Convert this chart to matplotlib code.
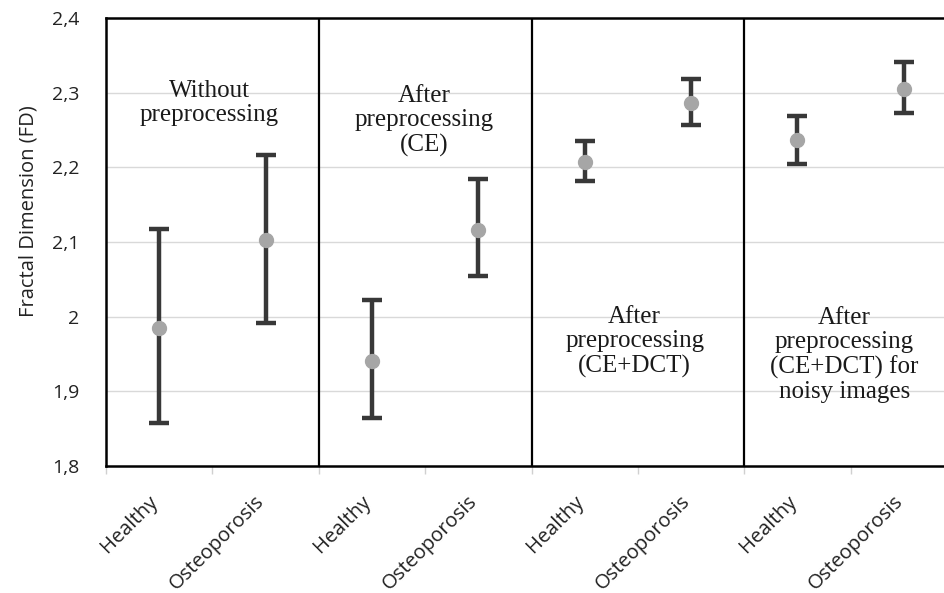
import numpy as np
import matplotlib
matplotlib.use("Agg")
import matplotlib.pyplot as plt
import matplotlib.transforms as mtransforms
from matplotlib.ticker import FixedLocator

# 数据
categories = ["Healthy", "Osteoporosis"] * 4
fd_mean = [1.985, 2.103, 1.940, 2.116, 2.207, 2.286, 2.236, 2.305]
fd_low = [1.857, 1.992, 1.864, 2.055, 2.182, 2.257, 2.204, 2.273]
fd_high = [2.118, 2.216, 2.022, 2.184, 2.235, 2.318, 2.269, 2.341]
y_ticks = [1.8, 1.9, 2.0, 2.1, 2.2, 2.3, 2.4]
y_tick_labels = ["1,8", "1,9", "2", "2,1", "2,2", "2,3", "2,4"]
group_texts = [
    "Without\npreprocessing",
    "After\npreprocessing\n(CE)",
    "After\npreprocessing\n(CE+DCT)",
    "After\npreprocessing\n(CE+DCT) for\nnoisy images",
]
group_text_x = [0.47, 2.49, 4.47, 6.44]
group_text_y = [2.286, 2.262, 1.966, 1.949]

x = np.arange(len(categories))
mean = np.array(fd_mean)
err = [mean - np.array(fd_low), np.array(fd_high) - mean]

fig = plt.figure(figsize=(9.44, 5.93), dpi=100)
ax = fig.add_axes([106 / 944, 1 - 466 / 593, 851 / 944, 448 / 593])

# 网格
for yt in y_ticks[1:-1]:
    ax.axhline(yt, color="#d9d9d9", lw=1, zorder=0)

line, caps, bars = ax.errorbar(x, mean, yerr=err, fmt="o", color="#a6a6a6",
                               markersize=10, ecolor="#383838", elinewidth=3.2,
                               capsize=7.5, capthick=3.2, zorder=3)
for c in caps:
    c.set_color("black")

# 分隔线
for xs in [1.5, 3.5, 5.5]:
    ax.axvline(xs, color="black", lw=1.6, zorder=2)

for t, tx, ty in zip(group_texts, group_text_x, group_text_y):
    ax.text(tx, ty, t, ha="center", va="center", fontsize=18,
            family="Liberation Serif", color="#1a1a1a", linespacing=1.12)

ax.set_xlim(-0.5, 7.5)
ax.set_ylim(1.8, 2.4)
ax.set_yticks(y_ticks)
ax.set_yticklabels(y_tick_labels, family="Open Sans", fontsize=14, color="#222222")
ax.tick_params(axis="y", length=0, pad=19)
ax.set_xticks(x)
ax.set_xticklabels(categories, rotation=45, ha="right", rotation_mode="anchor",
                   family="Open Sans", fontsize=14.5, color="#222222")
ax.tick_params(axis="x", which="major", length=0, pad=17)
shift = mtransforms.ScaledTranslation(-11 / 100, -2 / 100, fig.dpi_scale_trans)
for lab in ax.get_xticklabels():
    lab.set_transform(lab.get_transform() + shift)
ax.xaxis.set_minor_locator(FixedLocator(np.arange(-0.5, 8, 1)))
ax.tick_params(axis="x", which="minor", length=6, color="#d0d0d0", width=1)

ax.set_ylabel("Fractal Dimension (FD)", family="Open Sans", fontsize=14.5,
              color="#222222")
ax.yaxis.set_label_coords(-0.079, 0.568)

for s in ["left", "bottom", "top", "right"]:
    ax.spines[s].set_linewidth(1.8)
    ax.spines[s].set_color("black")

fig.savefig("out.png", dpi=100)
